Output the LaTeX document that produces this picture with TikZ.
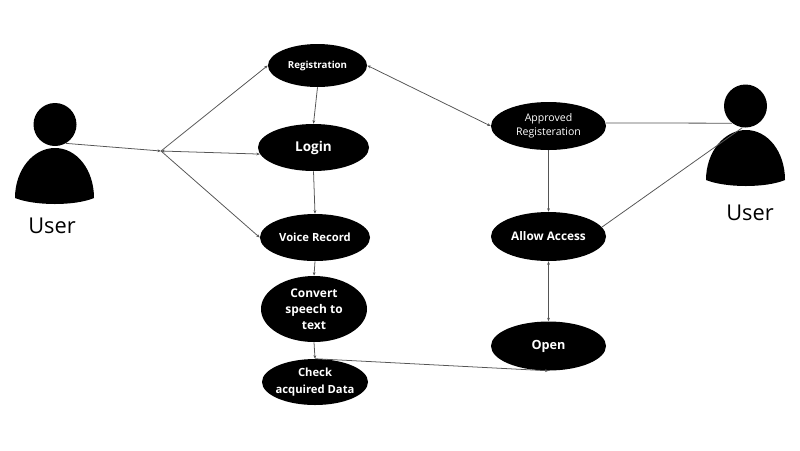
\documentclass[tikz,border=0pt]{standalone}
\usepackage{fontspec}
\setmainfont{Open Sans}
\usepackage{xcolor}
\usetikzlibrary{shapes.geometric}
\usetikzlibrary{arrows.meta}

\definecolor{linegray}{HTML}{555555}
\def\px{0.025cm}

\tikzset{
    usecase/.style n args={3}{draw=none, ellipse, fill=black, text=white, inner sep=0pt, align=center,
        minimum width=#1*\px, minimum height=#2*\px,
        font=\fontsize{#3}{11.5}\selectfont\bfseries},
    head/.style={circle, fill=black, inner sep=0pt, minimum size=43*\px},
    actorlabel/.style={inner sep=0pt, font=\fontsize{15.5}{18}\selectfont},
    link/.style={draw=linegray, line width=0.55pt},
    tip/.style={link, -{Stealth[length=2.5pt,width=2pt]}},
    bothtip/.style={link, {Stealth[length=2.5pt,width=2pt]}-{Stealth[length=2.5pt,width=2pt]}}
}

\begin{document}
\begin{tikzpicture}[x=0.025cm, y=-0.025cm]
    \useasboundingbox (0,0) rectangle (800,450);

    % Left actor
    \node[head] (UserL) at (55,124.5) {};
    \fill[black] (15,198) .. controls (15,170) and (33,148) .. (55,148) .. controls (77,148) and (94,170) .. (94,198) .. controls (75,206) and (35,206) .. (15,198) -- cycle;
    \node[actorlabel] (UserLText) at (52,226) {User};

    % Right actor
    \node[head] (UserR) at (745.5,106) {};
    \fill[black] (706,180) .. controls (706,152) and (724,130) .. (746,130) .. controls (768,130) and (785,152) .. (785,180) .. controls (766,188) and (726,188) .. (706,180) -- cycle;
    \node[actorlabel] (UserRText) at (750,213) {User};

    % Left column of use cases
    \node[usecase={99}{43}{6.9}] (Registration) at (317.5,65.5) {Registration};
    \node[usecase={111}{47}{9.6}] (Login) at (313.5,147.5) {Login};
    \node[usecase={110}{47}{8}] (Voice) at (315,237.5) {Voice Record};
    \node[usecase={106}{66}{8.5}, inner ysep=-1.5pt] (Convert) at (314,309) {Convert\\speech to\\text};
    \node[usecase={106}{46}{8}, inner xsep=-2.5pt] (Check) at (315,382) {Check\\acquired Data};

    % Right column of use cases
    \node[usecase={115}{48}{7.5}, font=\fontsize{7.5}{10}\selectfont] (Approved) at (548.5,126) {Approved\\Registeration};
    \node[usecase={115}{49}{8.4}] (Allow) at (548.5,236.5) {Allow Access};
    \node[usecase={115}{49}{9}] (Open) at (548.5,346) {Open};

    % Branch point next to the left actor
    \coordinate (Branch) at (161,151);

    % Connectors
    \draw[tip] (UserL.-60) -- (Branch);
    \draw[tip] (Branch) -- (Registration.west);
    \draw[bothtip] (Branch) -- (Login.187);
    \draw[tip] (Branch) -- (Voice.west);
    \draw[tip] (Registration.south) -- (Login.north);
    \draw[tip] (Login.south) -- (Voice.north);
    \draw[tip] (Voice.south) -- (Convert.north);
    \draw[tip] (Convert.south) -- (Check.north);
    \draw[tip] (Check.north) -- (Open.south);
    \draw[bothtip] (Registration.east) -- (Approved.west);
    \draw[link] (Approved.3) -- (UserR.-128);
    \draw[tip] (Approved.south) -- (Allow.north);
    \draw[link] (Allow.10) -- (UserR.-98);
    \draw[bothtip] (Allow.south) -- (Open.north);
\end{tikzpicture}
\end{document}
